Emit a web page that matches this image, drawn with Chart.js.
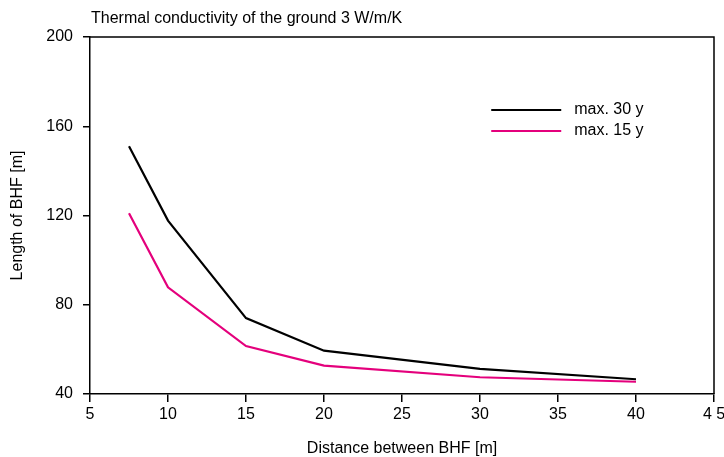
<!DOCTYPE html>
<html>
<head>
<meta charset="utf-8">
<script src="https://cdn.jsdelivr.net/npm/chart.js@4"></script>
<style>
  html, body { margin: 0; padding: 0; background: #fff; }
  #wrap { width: 724px; height: 457px; }
</style>
</head>
<body>
<div id="wrap"><canvas id="c" width="724" height="457"></canvas></div>
<script>
// ---- data ----
const chartTitle = 'Thermal conductivity of the ground 3 W/m/K';
const xTitle = 'Distance between BHF [m]';
const yTitle = 'Length of BHF [m]';
const distances = [7.5, 10, 15, 20, 30, 40];
const max30 = [151, 117.7, 74, 59.4, 51.3, 46.6];
const max15 = [121, 87.8, 61.5, 52.7, 47.5, 45.5];
const seriesNames = ['max. 30 y', 'max. 15 y'];
const xTickValues = [5, 10, 15, 20, 25, 30, 35, 40, 45];
const xTickLabels = ['5', '10', '15', '20', '25', '30', '35', '40', '4 5'];
const yTickValues = [40, 80, 120, 160, 200];

const FONT = 'Liberation Sans, Arial, sans-serif';
const FS = 16;

const toPoints = (xs, ys) => xs.map((x, i) => ({ x: x, y: ys[i] }));

const framePlugin = {
  id: 'frameTitleLegend',
  afterDraw(chart) {
    const { ctx, chartArea: a } = chart;
    ctx.save();
    // top and right frame
    ctx.strokeStyle = '#000';
    ctx.lineWidth = 1.5;
    ctx.beginPath();
    ctx.moveTo(a.left, a.top);
    ctx.lineTo(a.right, a.top);
    ctx.lineTo(a.right, a.bottom);
    ctx.stroke();
    // title
    ctx.fillStyle = '#000';
    ctx.font = FS + 'px ' + FONT;
    ctx.textAlign = 'left';
    ctx.textBaseline = 'alphabetic';
    ctx.fillText(chartTitle, a.left + 1, 23);
    // legend
    const lx0 = a.left + (a.right - a.left) * 0.643;
    const lx1 = lx0 + 70;
    chart.data.datasets.forEach((ds, i) => {
      const y = 110 + i * 21;
      ctx.strokeStyle = ds.borderColor;
      ctx.lineWidth = 2.2;
      ctx.beginPath();
      ctx.moveTo(lx0, y);
      ctx.lineTo(lx1, y);
      ctx.stroke();
      ctx.fillStyle = '#000';
      ctx.textBaseline = 'middle';
      ctx.fillText(ds.label, lx1 + 13, y);
    });
    ctx.restore();
  }
};

new Chart(document.getElementById('c'), {
  type: 'line',
  data: {
    datasets: [
      { label: seriesNames[0], data: toPoints(distances, max30), borderColor: '#000000', borderWidth: 2.2, pointRadius: 0, tension: 0, fill: false },
      { label: seriesNames[1], data: toPoints(distances, max15), borderColor: '#e4007c', borderWidth: 2.2, pointRadius: 0, tension: 0, fill: false }
    ]
  },
  options: {
    responsive: false,
    animation: false,
    devicePixelRatio: 1,
    layout: { padding: { top: 37, right: 10, left: 0, bottom: 0 } },
    plugins: { legend: { display: false }, title: { display: false }, tooltip: { enabled: false } },
    scales: {
      x: {
        type: 'linear',
        min: 5, max: 45,
        afterFit: s => { s.height = 63; s.paddingRight = 0; s.paddingLeft = 0; },
        afterBuildTicks: s => { s.ticks = xTickValues.map(v => ({ value: v })); },
        ticks: {
          color: '#000', font: { family: FONT, size: FS }, padding: 3, maxRotation: 0, autoSkip: false,
          callback: (v) => { const i = xTickValues.indexOf(v); return i >= 0 ? xTickLabels[i] : ''; }
        },
        grid: { drawOnChartArea: false, drawTicks: true, tickLength: 8, color: '#000', lineWidth: 1.5 },
        border: { display: true, color: '#000', width: 1.5 },
        title: { display: true, text: xTitle, color: '#000', font: { family: FONT, size: FS }, padding: { top: 0, bottom: -1 } }
      },
      y: {
        type: 'linear',
        min: 40, max: 200,
        afterFit: s => { s.width = 90; },
        afterBuildTicks: s => { s.ticks = yTickValues.map(v => ({ value: v })); },
        ticks: { color: '#000', font: { family: FONT, size: FS }, padding: 10 },
        grid: { drawOnChartArea: false, drawTicks: true, tickLength: 7, color: '#000', lineWidth: 1.5 },
        border: { display: true, color: '#000', width: 1.5 },
        title: { display: true, text: yTitle, color: '#000', font: { family: FONT, size: FS }, padding: { top: 8, bottom: 0 } }
      }
    }
  },
  plugins: [framePlugin]
});
</script>
</body>
</html>
